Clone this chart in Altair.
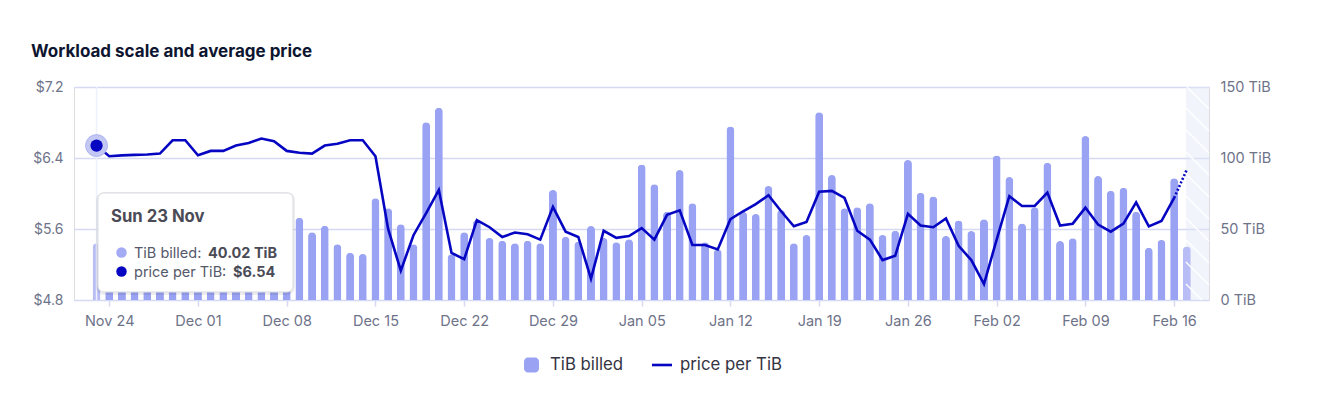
import altair as alt
import pandas as pd

# ---------------- data ----------------
start_date = "2025-11-23"
tib_billed = [
    40.02, 42, 45, 44, 47, 43, 50, 48, 46, 52, 49, 45, 51, 54, 50, 56,
    58.0, 47.7, 52.3, 39.2, 33.3, 32.4, 71.6, 64.6, 53.3, 39.2, 125.1, 135.4,
    32.2, 47.7, 56.3, 43.7, 41.8, 39.9, 41.8, 39.9, 77.5, 44.6, 41.1, 52.1,
    43.7, 40.6, 42.7, 95.5, 81.5, 62.2, 91.5, 68.1, 40.6, 35.7, 122.1, 62.2,
    60.6, 80.3, 63.4, 39.9, 45.8, 132.2, 88.0, 64.6, 65.3, 68.1, 45.8, 48.8,
    98.6, 75.6, 72.8, 45.1, 55.9, 48.6, 56.8, 101.8, 86.6, 53.8, 65.3, 96.7,
    41.5, 43.4, 115.5, 87.3, 77.0, 79.1, 62.2, 36.8, 42.3, 85.7, 37.6,
]
price_per_tib = [
    6.54, 6.42, 6.43, 6.435, 6.44, 6.45, 6.60, 6.60, 6.43, 6.48, 6.48, 6.54,
    6.57, 6.62, 6.59, 6.48, 6.46, 6.45, 6.54, 6.56, 6.60, 6.60, 6.42, 5.60,
    5.13, 5.53, 5.78, 6.04, 5.33, 5.26, 5.70, 5.62, 5.51, 5.56, 5.54, 5.48,
    5.85, 5.57, 5.51, 5.04, 5.58, 5.50, 5.52, 5.61, 5.48, 5.76, 5.81, 5.42,
    5.42, 5.37, 5.71, 5.80, 5.88, 5.98, 5.80, 5.63, 5.68, 6.02, 6.03, 5.95,
    5.58, 5.48, 5.25, 5.30, 5.77, 5.64, 5.62, 5.72, 5.41, 5.25, 4.98, 5.48,
    5.97, 5.86, 5.86, 6.01, 5.64, 5.66, 5.84, 5.65, 5.57, 5.66, 5.90, 5.63,
    5.69, 5.95, 6.27,
]
x_tick_dates = [
    "2025-11-24", "2025-12-01", "2025-12-08", "2025-12-15", "2025-12-22",
    "2025-12-29", "2026-01-05", "2026-01-12", "2026-01-19", "2026-01-26",
    "2026-02-02", "2026-02-09", "2026-02-16",
]
price_ticks = [4.8, 5.6, 6.4, 7.2]
tib_ticks = [0, 50, 100, 150]
series_names = ["TiB billed", "price per TiB"]
title_text = "Workload scale and average price"
tooltip_title = "Sun 23 Nov"
tooltip_labels = ["TiB billed:", "price per TiB:"]
tooltip_values = ["40.02 TiB", "$6.54"]

# ---------------- styling ----------------
FONT = "Inter"
BAR = "#99a2f3"
BAR_LIGHT = "#b8bdf6"
LINE = "#0606c2"
GRID = "#d5d9f3"
LABEL = "#6e7389"
W, H = 1135, 213

dates = pd.date_range(start_date, periods=len(tib_billed), freq="D")
df = pd.DataFrame({
    "date": dates.strftime("%Y-%m-%d"),
    "tib": tib_billed,
    "price": price_per_tib,
})
last = len(df) - 1
df["shade"] = ["light" if i in (0, last) else "normal" for i in range(len(df))]


def utc(ts):
    t = pd.Timestamp(ts)
    return t.tz_localize("UTC") if t.tzinfo is None else t.tz_convert("UTC")


def ms(ts):
    return int(utc(ts).timestamp() * 1000)


first_day = utc(start_date)
last_day = utc(df["date"].iloc[-1])
dom0 = first_day - pd.Timedelta(hours=33.2)
dom1 = last_day + pd.Timedelta(hours=32.5)
band_start = last_day - pd.Timedelta(hours=10.8)
x0_band = (band_start - dom0) / (dom1 - dom0) * W

x_scale = alt.Scale(type="utc", domain=[ms(dom0), ms(dom1)])
x_enc = alt.X(
    "date:T",
    scale=x_scale,
    axis=alt.Axis(
        values=[ms(d) for d in x_tick_dates],
        labelExpr="utcFormat(datum.value, '%b %d')",
        title=None, grid=False, domain=False, tickColor=GRID, tickSize=6,
        tickWidth=1.5, labelPadding=8, labelColor=LABEL, labelFont=FONT,
        labelFontSize=14.5,
    ),
)

dummy = pd.DataFrame({"a": [0]})

# background band for incomplete day
band = alt.Chart(dummy).mark_rect(color="#dfe6f7", opacity=0.45).encode(
    x=alt.value(x0_band), x2=alt.value(W), y=alt.value(0), y2=alt.value(H)
)

bars = alt.Chart(df).mark_bar(size=8, cornerRadiusTopLeft=4, cornerRadiusTopRight=4).encode(
    x=x_enc,
    y=alt.Y(
        "tib:Q",
        scale=alt.Scale(domain=[0, 150]),
        axis=alt.Axis(
            orient="right", values=tib_ticks, labelExpr="datum.value + ' TiB'",
            title=None, grid=False, domain=False, ticks=False, labelPadding=11,
            labelColor=LABEL, labelFont=FONT, labelFontSize=14.5,
        ),
    ),
    color=alt.Color("shade:N", scale=alt.Scale(domain=["normal", "light"], range=[BAR, BAR_LIGHT]), legend=None),
)

# hatch lines over band
hatch_layers = []
bw = W - x0_band
step = 22
c = -bw
while c < H:
    xa, ya = x0_band, c
    xb, yb = W, c + bw
    if ya < 0:
        xa, ya = x0_band - c, 0
    if yb > H:
        xb, yb = x0_band + (H - c), H
    if xb > xa:
        hatch_layers.append(
            alt.Chart(dummy).mark_rule(color="white", strokeWidth=1.5, opacity=0.95).encode(
                x=alt.value(float(xa)), y=alt.value(float(ya)), x2=alt.value(float(xb)), y2=alt.value(float(yb))
            )
        )
    c += step

y_price = alt.Y(
    "price:Q",
    scale=alt.Scale(domain=[4.8, 7.2]),
    axis=alt.Axis(
        orient="left", values=price_ticks, labelExpr="'$' + format(datum.value, '.1f')",
        title=None, grid=True, gridColor=GRID, gridWidth=1.5, domain=False, ticks=False,
        labelPadding=11, labelColor=LABEL, labelFont=FONT, labelFontSize=14,
    ),
)

hover_rule = alt.Chart(df.iloc[[0]]).mark_rule(color="#eef0fb", strokeWidth=1.5).encode(
    x=alt.X("date:T", scale=x_scale), y=alt.value(0), y2=alt.value(H)
)
line_solid = alt.Chart(df.iloc[:last]).mark_line(color=LINE, strokeWidth=2.6).encode(
    x=alt.X("date:T", scale=x_scale), y=y_price
)
line_dotted = alt.Chart(df.iloc[last - 1:]).mark_line(color=LINE, strokeWidth=2.6, strokeDash=[2, 2]).encode(
    x=alt.X("date:T", scale=x_scale), y=alt.Y("price:Q")
)
halo = alt.Chart(df.iloc[[0]]).mark_circle(size=480, color="#c3c7f4", opacity=1, stroke="#aeb4f0", strokeWidth=1).encode(
    x=alt.X("date:T", scale=x_scale), y=alt.Y("price:Q")
)
dot = alt.Chart(df.iloc[[0]]).mark_circle(size=150, color=LINE, opacity=1).encode(
    x=alt.X("date:T", scale=x_scale), y=alt.Y("price:Q")
)

price_layer = alt.layer(hover_rule, line_solid, line_dotted, halo, dot)

# tooltip box
tx0, tx1, ty0, ty1 = 24, 219, 106, 205
shadow = alt.Chart(dummy).mark_rect(color="#000000", opacity=0.07, cornerRadius=8).encode(
    x=alt.value(tx0 - 2), x2=alt.value(tx1 + 2), y=alt.value(ty0 - 1), y2=alt.value(ty1 + 3)
)
box = alt.Chart(dummy).mark_rect(color="white", stroke="#d9dbe0", strokeWidth=1, cornerRadius=6).encode(
    x=alt.value(tx0), x2=alt.value(tx1), y=alt.value(ty0), y2=alt.value(ty1)
)
tt_title = alt.Chart(dummy).mark_text(
    text=tooltip_title, align="left", baseline="alphabetic", font=FONT,
    fontSize=16.7, fontWeight="bold", color="#4a4b56",
).encode(x=alt.value(37), y=alt.value(135))
tt_layers = [shadow, box, tt_title]
row_y = [171, 190]
dot_colors = ["#a4abf5", LINE]
value_x = [134, 159]
for i in range(2):
    tt_layers.append(alt.Chart(dummy).mark_circle(size=110, color=dot_colors[i], opacity=1).encode(
        x=alt.value(47.5), y=alt.value(row_y[i] - 5.5)))
    tt_layers.append(alt.Chart(dummy).mark_text(
        text=tooltip_labels[i], align="left", baseline="alphabetic", font=FONT,
        fontSize=14.5, color="#55596a").encode(x=alt.value(60), y=alt.value(row_y[i])))
    tt_layers.append(alt.Chart(dummy).mark_text(
        text=tooltip_values[i], align="left", baseline="alphabetic", font=FONT,
        fontSize=14.5, fontWeight="bold", color="#4a4b56").encode(x=alt.value(value_x[i]), y=alt.value(row_y[i])))

# title
title = alt.Chart(dummy).mark_text(
    text=title_text, align="left", baseline="alphabetic", font=FONT,
    fontSize=17, fontWeight="bold", color="#0e1530",
).encode(x=alt.value(-43), y=alt.value(-30))

# legend
leg_y = 278
legend_layers = [
    alt.Chart(dummy).mark_rect(color=BAR, cornerRadius=4).encode(
        x=alt.value(450), x2=alt.value(465), y=alt.value(leg_y - 7.5), y2=alt.value(leg_y + 7.5)),
    alt.Chart(dummy).mark_text(text=series_names[0], align="left", baseline="middle", font=FONT,
        fontSize=16.8, color="#343443").encode(x=alt.value(476), y=alt.value(leg_y)),
    alt.Chart(dummy).mark_rule(color=LINE, strokeWidth=2.6).encode(
        x=alt.value(578), x2=alt.value(598), y=alt.value(leg_y), y2=alt.value(leg_y)),
    alt.Chart(dummy).mark_text(text=series_names[1], align="left", baseline="middle", font=FONT,
        fontSize=16.8, color="#343443").encode(x=alt.value(606), y=alt.value(leg_y)),
]

chart = alt.layer(
    band, bars, *hatch_layers, price_layer, *tt_layers, title, *legend_layers
).resolve_scale(y="independent").properties(
    width=W, height=H,
    autosize=alt.AutoSizeParams(type="none"),
    padding={"left": 66, "top": 79, "right": 109, "bottom": 86},
).configure_view(stroke=None).configure(background="white")

chart.save("out.html", embed_options={"renderer": "svg", "actions": False})
